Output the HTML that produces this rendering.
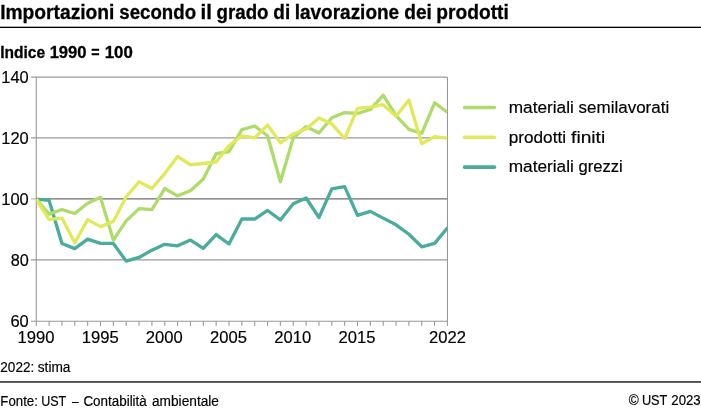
<!DOCTYPE html>
<html lang="it"><head><meta charset="utf-8"><title>Importazioni secondo il grado di lavorazione dei prodotti</title>
<style>html,body{margin:0;padding:0;background:#fff;}body{width:701px;height:410px;overflow:hidden;font-family:"Liberation Sans",sans-serif;}svg{display:block;will-change:transform;}text{font-family:"Liberation Sans",sans-serif;fill:#000;white-space:pre;}</style>
</head><body>
<svg width="701" height="410" viewBox="0 0 701 410">
<rect x="0" y="0" width="701" height="410" fill="#ffffff"/>
<rect x="0" y="26.7" width="701" height="1.3" fill="#000"/>
<line x1="31" y1="77.10" x2="447.45" y2="77.10" stroke="#999999" stroke-width="1.3"/>
<line x1="31" y1="137.95" x2="447.45" y2="137.95" stroke="#999999" stroke-width="1.3"/>
<line x1="31" y1="259.90" x2="447.45" y2="259.90" stroke="#999999" stroke-width="1.3"/>
<line x1="31" y1="321.25" x2="447.45" y2="321.25" stroke="#999999" stroke-width="1.1"/>
<line x1="36.25" y1="77.15" x2="36.25" y2="321.25" stroke="#999999" stroke-width="1.1"/>
<line x1="447.45" y1="77.15" x2="447.45" y2="325.85" stroke="#999999" stroke-width="1.1"/>
<line x1="36.25" y1="321.25" x2="36.25" y2="325.85" stroke="#999999" stroke-width="1.1"/>
<line x1="49.10" y1="321.25" x2="49.10" y2="325.85" stroke="#999999" stroke-width="1.1"/>
<line x1="61.95" y1="321.25" x2="61.95" y2="325.85" stroke="#999999" stroke-width="1.1"/>
<line x1="74.80" y1="321.25" x2="74.80" y2="325.85" stroke="#999999" stroke-width="1.1"/>
<line x1="87.65" y1="321.25" x2="87.65" y2="325.85" stroke="#999999" stroke-width="1.1"/>
<line x1="100.50" y1="321.25" x2="100.50" y2="325.85" stroke="#999999" stroke-width="1.1"/>
<line x1="113.35" y1="321.25" x2="113.35" y2="325.85" stroke="#999999" stroke-width="1.1"/>
<line x1="126.20" y1="321.25" x2="126.20" y2="325.85" stroke="#999999" stroke-width="1.1"/>
<line x1="139.05" y1="321.25" x2="139.05" y2="325.85" stroke="#999999" stroke-width="1.1"/>
<line x1="151.90" y1="321.25" x2="151.90" y2="325.85" stroke="#999999" stroke-width="1.1"/>
<line x1="164.75" y1="321.25" x2="164.75" y2="325.85" stroke="#999999" stroke-width="1.1"/>
<line x1="177.60" y1="321.25" x2="177.60" y2="325.85" stroke="#999999" stroke-width="1.1"/>
<line x1="190.45" y1="321.25" x2="190.45" y2="325.85" stroke="#999999" stroke-width="1.1"/>
<line x1="203.30" y1="321.25" x2="203.30" y2="325.85" stroke="#999999" stroke-width="1.1"/>
<line x1="216.15" y1="321.25" x2="216.15" y2="325.85" stroke="#999999" stroke-width="1.1"/>
<line x1="229.00" y1="321.25" x2="229.00" y2="325.85" stroke="#999999" stroke-width="1.1"/>
<line x1="241.85" y1="321.25" x2="241.85" y2="325.85" stroke="#999999" stroke-width="1.1"/>
<line x1="254.70" y1="321.25" x2="254.70" y2="325.85" stroke="#999999" stroke-width="1.1"/>
<line x1="267.55" y1="321.25" x2="267.55" y2="325.85" stroke="#999999" stroke-width="1.1"/>
<line x1="280.40" y1="321.25" x2="280.40" y2="325.85" stroke="#999999" stroke-width="1.1"/>
<line x1="293.25" y1="321.25" x2="293.25" y2="325.85" stroke="#999999" stroke-width="1.1"/>
<line x1="306.10" y1="321.25" x2="306.10" y2="325.85" stroke="#999999" stroke-width="1.1"/>
<line x1="318.95" y1="321.25" x2="318.95" y2="325.85" stroke="#999999" stroke-width="1.1"/>
<line x1="331.80" y1="321.25" x2="331.80" y2="325.85" stroke="#999999" stroke-width="1.1"/>
<line x1="344.65" y1="321.25" x2="344.65" y2="325.85" stroke="#999999" stroke-width="1.1"/>
<line x1="357.50" y1="321.25" x2="357.50" y2="325.85" stroke="#999999" stroke-width="1.1"/>
<line x1="370.35" y1="321.25" x2="370.35" y2="325.85" stroke="#999999" stroke-width="1.1"/>
<line x1="383.20" y1="321.25" x2="383.20" y2="325.85" stroke="#999999" stroke-width="1.1"/>
<line x1="396.05" y1="321.25" x2="396.05" y2="325.85" stroke="#999999" stroke-width="1.1"/>
<line x1="408.90" y1="321.25" x2="408.90" y2="325.85" stroke="#999999" stroke-width="1.1"/>
<line x1="421.75" y1="321.25" x2="421.75" y2="325.85" stroke="#999999" stroke-width="1.1"/>
<line x1="434.60" y1="321.25" x2="434.60" y2="325.85" stroke="#999999" stroke-width="1.1"/>
<line x1="31" y1="198.95" x2="36.25" y2="198.95" stroke="#b0b0b0" stroke-width="1.1"/>
<line x1="36.25" y1="198.80" x2="447.45" y2="198.80" stroke="#6e6e6e" stroke-width="1.3"/>
<clipPath id="pc"><rect x="36.45" y="77.15" width="411.0" height="244.1"/></clipPath>
<g clip-path="url(#pc)">
<polyline points="36.25,199.20 49.10,200.42 61.95,243.42 74.80,248.61 87.65,239.15 100.50,243.42 113.35,243.42 126.20,261.11 139.05,257.45 151.90,250.13 164.75,244.34 177.60,245.86 190.45,240.07 203.30,248.30 216.15,234.58 229.00,244.03 241.85,219.02 254.70,219.02 267.55,210.48 280.40,219.94 293.25,203.77 306.10,197.98 318.95,217.50 331.80,188.83 344.65,186.69 357.50,215.36 370.35,211.40 383.20,218.11 396.05,224.82 408.90,234.27 421.75,246.78 434.60,243.42 447.45,227.87" fill="none" stroke="#4aac9c" stroke-width="3.3" stroke-linejoin="round" stroke-linecap="butt"/>
<polyline points="36.25,199.20 49.10,214.15 61.95,209.57 74.80,213.53 87.65,203.16 100.50,197.37 113.35,240.07 126.20,220.85 139.05,208.65 151.90,209.57 164.75,188.52 177.60,195.84 190.45,190.66 203.30,179.07 216.15,153.75 229.00,151.62 241.85,129.66 254.70,126.00 267.55,135.76 280.40,181.81 293.25,137.90 306.10,126.61 318.95,133.01 331.80,117.76 344.65,112.58 357.50,113.50 370.35,109.53 383.20,95.20 396.05,115.63 408.90,129.35 421.75,133.32 434.60,102.82 447.45,112.27" fill="none" stroke="#aedc6b" stroke-width="3.3" stroke-linejoin="round" stroke-linecap="butt"/>
<polyline points="36.25,199.20 49.10,219.63 61.95,218.11 74.80,242.81 87.65,219.63 100.50,226.65 113.35,221.46 126.20,196.76 139.05,181.81 151.90,188.52 164.75,173.58 177.60,156.50 190.45,164.74 203.30,163.51 216.15,161.99 229.00,145.52 241.85,135.76 254.70,137.90 267.55,125.09 280.40,142.77 293.25,133.93 306.10,129.05 318.95,118.07 331.80,123.86 344.65,138.50 357.50,108.31 370.35,107.09 383.20,104.65 396.05,116.24 408.90,100.07 421.75,143.69 434.60,136.67 447.45,138.20" fill="none" stroke="#e1e95b" stroke-width="3.3" stroke-linejoin="round" stroke-linecap="butt"/>
</g>
<line x1="464.6" y1="107.50" x2="494.4" y2="107.50" stroke="#aedc6b" stroke-width="3.6" stroke-linecap="round"/>
<line x1="464.6" y1="137.20" x2="494.4" y2="137.20" stroke="#e1e95b" stroke-width="3.6" stroke-linecap="round"/>
<line x1="464.6" y1="167.15" x2="494.4" y2="167.15" stroke="#4aac9c" stroke-width="3.6" stroke-linecap="round"/>
<rect x="0" y="381.3" width="701" height="1.3" fill="#000"/>
<text x="0.13" y="18.6" font-size="20.3" font-weight="bold" stroke="#000" stroke-width="0.3" textLength="114.34" lengthAdjust="spacingAndGlyphs">Importazioni</text>
<text x="119.30" y="18.6" font-size="20.3" font-weight="bold" stroke="#000" stroke-width="0.3" textLength="76.76" lengthAdjust="spacingAndGlyphs">secondo</text>
<text x="200.57" y="18.6" font-size="20.3" font-weight="bold" stroke="#000" stroke-width="0.3" textLength="11.33" lengthAdjust="spacingAndGlyphs">il</text>
<text x="216.50" y="18.6" font-size="20.3" font-weight="bold" stroke="#000" stroke-width="0.3" textLength="52.01" lengthAdjust="spacingAndGlyphs">grado</text>
<text x="273.34" y="18.6" font-size="20.3" font-weight="bold" stroke="#000" stroke-width="0.3" textLength="16.83" lengthAdjust="spacingAndGlyphs">di</text>
<text x="294.75" y="18.6" font-size="20.3" font-weight="bold" stroke="#000" stroke-width="0.3" textLength="104.36" lengthAdjust="spacingAndGlyphs">lavorazione</text>
<text x="404.22" y="18.6" font-size="20.3" font-weight="bold" stroke="#000" stroke-width="0.3" textLength="27.58" lengthAdjust="spacingAndGlyphs">dei</text>
<text x="436.36" y="18.6" font-size="20.3" font-weight="bold" stroke="#000" stroke-width="0.3" textLength="72.42" lengthAdjust="spacingAndGlyphs">prodotti</text>
<text x="0.18" y="57.8" font-size="16.8" font-weight="bold" stroke="#000" stroke-width="0.3" textLength="44.93" lengthAdjust="spacingAndGlyphs">Indice</text>
<text x="49.63" y="57.8" font-size="16.8" font-weight="bold" stroke="#000" stroke-width="0.3" textLength="36.98" lengthAdjust="spacingAndGlyphs">1990</text>
<text x="91.31" y="57.8" font-size="16.8" font-weight="bold" stroke="#000" stroke-width="0.3" textLength="8.32" lengthAdjust="spacingAndGlyphs">=</text>
<text x="104.67" y="57.8" font-size="16.8" font-weight="bold" stroke="#000" stroke-width="0.3" textLength="28.10" lengthAdjust="spacingAndGlyphs">100</text>
<text x="1.26" y="83.0" font-size="16.9" stroke="#000" stroke-width="0.18" textLength="27.50" lengthAdjust="spacingAndGlyphs">140</text>
<text x="1.26" y="143.85" font-size="16.9" stroke="#000" stroke-width="0.18" textLength="27.50" lengthAdjust="spacingAndGlyphs">120</text>
<text x="1.26" y="204.7" font-size="16.9" stroke="#000" stroke-width="0.18" textLength="27.50" lengthAdjust="spacingAndGlyphs">100</text>
<text x="10.69" y="265.8" font-size="16.9" stroke="#000" stroke-width="0.18" textLength="18.07" lengthAdjust="spacingAndGlyphs">80</text>
<text x="10.44" y="327.15" font-size="16.9" stroke="#000" stroke-width="0.18" textLength="18.34" lengthAdjust="spacingAndGlyphs">60</text>
<text x="17.47" y="342.8" font-size="16.8" stroke="#000" stroke-width="0.18" textLength="37.05" lengthAdjust="spacingAndGlyphs">1990</text>
<text x="81.72" y="342.8" font-size="16.8" stroke="#000" stroke-width="0.18" textLength="37.05" lengthAdjust="spacingAndGlyphs">1995</text>
<text x="145.74" y="342.8" font-size="16.8" stroke="#000" stroke-width="0.18" textLength="36.91" lengthAdjust="spacingAndGlyphs">2000</text>
<text x="209.99" y="342.8" font-size="16.8" stroke="#000" stroke-width="0.18" textLength="36.91" lengthAdjust="spacingAndGlyphs">2005</text>
<text x="274.24" y="342.8" font-size="16.8" stroke="#000" stroke-width="0.18" textLength="36.91" lengthAdjust="spacingAndGlyphs">2010</text>
<text x="338.49" y="342.8" font-size="16.8" stroke="#000" stroke-width="0.18" textLength="36.91" lengthAdjust="spacingAndGlyphs">2015</text>
<text x="429.03" y="342.8" font-size="16.8" stroke="#000" stroke-width="0.18" textLength="36.94" lengthAdjust="spacingAndGlyphs">2022</text>
<text x="508.72" y="113.35" font-size="16.8" stroke="#000" stroke-width="0.18" textLength="65.14" lengthAdjust="spacingAndGlyphs">materiali</text>
<text x="578.60" y="113.35" font-size="16.8" stroke="#000" stroke-width="0.18" textLength="90.61" lengthAdjust="spacingAndGlyphs">semilavorati</text>
<text x="508.73" y="142.7" font-size="16.8" stroke="#000" stroke-width="0.18" textLength="57.29" lengthAdjust="spacingAndGlyphs">prodotti</text>
<text x="571.14" y="142.7" font-size="16.8" stroke="#000" stroke-width="0.18" textLength="34.04" lengthAdjust="spacingAndGlyphs">finiti</text>
<text x="508.72" y="172.4" font-size="16.8" stroke="#000" stroke-width="0.18" textLength="65.14" lengthAdjust="spacingAndGlyphs">materiali</text>
<text x="578.59" y="172.4" font-size="16.8" stroke="#000" stroke-width="0.18" textLength="44.23" lengthAdjust="spacingAndGlyphs">grezzi</text>
<text x="0.33" y="371.6" font-size="14.0" stroke="#000" stroke-width="0.18" textLength="33.96" lengthAdjust="spacingAndGlyphs">2022:</text>
<text x="37.76" y="371.6" font-size="14.0" stroke="#000" stroke-width="0.18" textLength="32.74" lengthAdjust="spacingAndGlyphs">stima</text>
<text x="0.36" y="405.5" font-size="14.0" stroke="#000" stroke-width="0.18" textLength="37.49" lengthAdjust="spacingAndGlyphs">Fonte:</text>
<text x="41.15" y="405.5" font-size="14.0" stroke="#000" stroke-width="0.18" textLength="25.00" lengthAdjust="spacingAndGlyphs">UST</text>
<text x="71.89" y="405.5" font-size="14.0" stroke="#000" stroke-width="0.18" textLength="6.84" lengthAdjust="spacingAndGlyphs">–</text>
<text x="83.40" y="405.5" font-size="14.0" stroke="#000" stroke-width="0.18" textLength="63.40" lengthAdjust="spacingAndGlyphs">Contabilità</text>
<text x="151.95" y="405.5" font-size="14.0" stroke="#000" stroke-width="0.18" textLength="67.06" lengthAdjust="spacingAndGlyphs">ambientale</text>
<text x="628.71" y="405.4" font-size="14.0" stroke="#000" stroke-width="0.18" textLength="10.02" lengthAdjust="spacingAndGlyphs">©</text>
<text x="641.89" y="405.4" font-size="14.0" stroke="#000" stroke-width="0.18" textLength="25.48" lengthAdjust="spacingAndGlyphs">UST</text>
<text x="671.29" y="405.4" font-size="14.0" stroke="#000" stroke-width="0.18" textLength="29.41" lengthAdjust="spacingAndGlyphs">2023</text>
</svg></body></html>
